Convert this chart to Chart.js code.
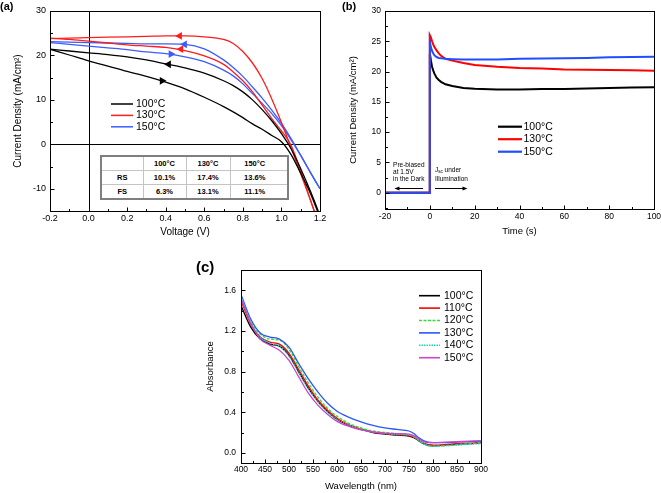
<!DOCTYPE html>
<html>
<head>
<meta charset="utf-8">
<script src="https://cdn.jsdelivr.net/npm/chart.js@4.4.0/dist/chart.umd.min.js"></script>
<style>
  html, body { margin: 0; padding: 0; background: #fff; }
  #page { position: relative; width: 661px; height: 493px; overflow: hidden; font-family: Arial, 'Liberation Sans', sans-serif; }
  canvas { position: absolute; }
  .tag { position: absolute; font-weight: bold; color: #000; line-height: 1; }
  #pceBox { position: absolute; left: 100px; top: 155px; width: 185px; height: 41px; border: 2px solid #7f7f7f; background: #fff; }
  #pceBox table { width: 100%; height: 100%; border-collapse: collapse; table-layout: fixed; }
  #pceBox td { border-left: 1px solid #c4c4c4; border-top: 1px solid #c4c4c4; text-align: center; font-size: 7.5px; font-weight: bold; padding: 0; }
  #pceBox tr:first-child td { border-top: none; }
  #pceBox td:first-child { border-left: none; }
  #pceBox td:last-child { padding-right: 8px; }
</style>
</head>
<body>
<div id="page">
  <canvas id="chartA" width="330" height="240" style="left:0;top:0"></canvas>
  <canvas id="chartB" width="331" height="240" style="left:330px;top:0"></canvas>
  <canvas id="chartC" width="380" height="253" style="left:150px;top:240px"></canvas>
  <div class="tag" style="left:0;top:1px;font-size:11px">(a)</div>
  <div class="tag" style="left:342px;top:1px;font-size:11px">(b)</div>
  <div class="tag" style="left:196px;top:259px;font-size:15px">(c)</div>
  <div id="pceBox"><table id="pceTable"></table></div>
</div>
<script>
const FONT = "Arial, 'Liberation Sans', sans-serif";

// ---- (a) J-V curves ----
const jvVoltage = [-0.2, -0.1, 0, 0.1, 0.2, 0.3, 0.4, 0.5, 0.6, 0.7, 0.75, 0.8, 0.85, 0.9, 0.95, 1.0, 1.05, 1.1, 1.15, 1.2];
const jv100RS = [21.4, 21.0, 20.6, 20.2, 19.7, 19.0, 18.1, 17.2, 16.0, 14.3, 13.2, 11.8, 10.0, 7.8, 5.3, 2.4, -1.0, -5.5, -10.5, -16.0];
const jv100FS = [21.4, 20.1, 18.8, 17.6, 16.4, 15.3, 14.0, 12.5, 10.6, 8.5, 7.3, 6.0, 4.6, 3.4, 2.0, 0.6, -2.3, -6.5, -11.0, -16.5];
const jv130RS = [23.8, 23.9, 24.0, 24.1, 24.2, 24.3, 24.4, 24.4, 24.2, 23.6, 22.7, 20.9, 18.3, 14.8, 10.2, 4.9, -0.8, -6.6, -12.5, -18.5];
const jv130FS = [23.9, 23.6, 23.2, 22.8, 22.4, 22.1, 21.8, 21.1, 19.9, 18.0, 16.3, 14.3, 11.8, 8.8, 5.8, 3.0, -0.2, -6.0, -12.5, -19.0];
const jv150RS = [23.1, 23.0, 22.9, 22.8, 22.7, 22.6, 22.6, 22.5, 21.5, 19.0, 17.3, 15.3, 12.9, 10.4, 7.7, 4.7, 1.3, -2.5, -6.3, -10.0];
const jv150FS = [22.9, 22.5, 22.1, 21.7, 21.3, 20.8, 20.4, 19.7, 18.6, 16.7, 15.4, 13.6, 11.4, 9.2, 6.9, 4.2, 1.0, -2.5, -6.3, -10.0];
// scan direction arrows: 100 RS, 100 FS, 130 RS, 130 FS, 150 RS, 150 FS
const arrowVoltage = [0.415, 0.381, 0.472, 0.479, 0.498, 0.427];
const arrowCurrent = [18.0, 14.3, 24.4, 21.4, 22.5, 20.3];
const arrowDir = ['left', 'right', 'left', 'left', 'left', 'right'];
const jvTemps = ['100°C', '130°C', '150°C'];
const voltageTicks = [-0.2, 0, 0.2, 0.4, 0.6, 0.8, 1.0, 1.2];
const currentTicksA = [-10, 0, 10, 20, 30];
// PCE table
const pceCols = ['100°C', '130°C', '150°C'];
const pceRS = ['10.1%', '17.4%', '13.6%'];
const pceFS = ['6.3%', '13.1%', '11.1%'];

// ---- (b) Jsc vs time ----
const timeS = [-20, 0, 0, 0.5, 1, 1.5, 2, 3, 4, 5, 7, 10, 15, 20, 30, 40, 50, 60, 70, 80, 90, 100];
const jsc100 = [0, 0, 23.0, 21.8, 20.8, 20.2, 19.7, 19.0, 18.6, 18.3, 17.9, 17.6, 17.3, 17.15, 17.05, 17.05, 17.1, 17.1, 17.2, 17.3, 17.35, 17.4];
const jsc130 = [0, 0, 26.0, 25.6, 25.0, 24.5, 24.1, 23.5, 23.0, 22.6, 22.1, 21.8, 21.4, 21.1, 20.8, 20.6, 20.5, 20.35, 20.3, 20.25, 20.2, 20.15];
const jsc150 = [0, 0, 24.9, 24.0, 23.4, 23.0, 22.7, 22.4, 22.25, 22.2, 22.1, 22.05, 22.0, 22.0, 22.0, 22.1, 22.15, 22.2, 22.25, 22.35, 22.4, 22.45];
const jscTemps = ['100°C', '130°C', '150°C'];
const timeTicks = [-20, 0, 20, 40, 60, 80, 100];
const currentTicksB = [0, 5, 10, 15, 20, 25, 30];
const darkNote = ['Pre-biased', 'at 1.5V', 'in the Dark'];

// ---- (c) absorbance ----
const wavelength = [400, 420, 440, 460, 480, 500, 520, 540, 560, 580, 600, 625, 650, 675, 700, 725, 750, 760, 770, 780, 790, 800, 825, 850, 875, 900];
const abs100 = [1.45, 1.24, 1.12, 1.07, 1.05, 0.96, 0.80, 0.64, 0.51, 0.41, 0.33, 0.27, 0.23, 0.20, 0.185, 0.175, 0.165, 0.15, 0.12, 0.09, 0.075, 0.07, 0.075, 0.085, 0.09, 0.10];
const abs110 = [1.50, 1.27, 1.14, 1.09, 1.07, 0.98, 0.82, 0.66, 0.52, 0.42, 0.34, 0.275, 0.235, 0.205, 0.19, 0.18, 0.17, 0.155, 0.125, 0.095, 0.08, 0.075, 0.08, 0.09, 0.095, 0.105];
const abs120 = [1.53, 1.30, 1.17, 1.12, 1.11, 1.02, 0.85, 0.69, 0.55, 0.44, 0.36, 0.29, 0.245, 0.215, 0.20, 0.19, 0.18, 0.16, 0.125, 0.09, 0.07, 0.065, 0.07, 0.08, 0.09, 0.10];
const abs130 = [1.56, 1.32, 1.18, 1.14, 1.12, 1.04, 0.88, 0.73, 0.60, 0.49, 0.41, 0.35, 0.305, 0.27, 0.245, 0.23, 0.215, 0.19, 0.15, 0.12, 0.105, 0.10, 0.10, 0.105, 0.11, 0.115];
const abs140 = [1.54, 1.29, 1.14, 1.08, 1.05, 0.95, 0.79, 0.63, 0.50, 0.40, 0.33, 0.27, 0.23, 0.205, 0.19, 0.18, 0.175, 0.16, 0.125, 0.09, 0.07, 0.065, 0.07, 0.075, 0.085, 0.09];
const abs150 = [1.52, 1.28, 1.12, 1.06, 1.01, 0.91, 0.75, 0.59, 0.47, 0.38, 0.31, 0.26, 0.225, 0.205, 0.195, 0.19, 0.185, 0.17, 0.14, 0.11, 0.10, 0.10, 0.105, 0.11, 0.115, 0.12];
const absTemps = ['100°C', '110°C', '120°C', '130°C', '140°C', '150°C'];
const wavelengthTicks = [400, 450, 500, 550, 600, 650, 700, 750, 800, 850, 900];
const absTicks = [0, 0.4, 0.8, 1.2, 1.6];

Chart.defaults.font.family = FONT;
Chart.defaults.color = '#000';

function points(xs, ys) {
    return xs.map((x, i) => ({ x: x, y: ys[i] }));
}

function minorValues(scale, majors) {
    const half = (majors[1] - majors[0]) / 2;
    const out = [];
    for (let v = majors[0] - half; v >= scale.min - 1e-9; v -= 2 * half) out.push(v);
    for (let v = majors[0] + half; v <= scale.max + 1e-9; v += 2 * half) out.push(v);
    return out;
}

// box around the plot with inward Origin-style ticks
function framePlugin(xMajor, yMajor, zeroLines) {
    return {
        id: 'frame',
        beforeDatasetsDraw(chart) {
            if (!zeroLines) return;
            const { ctx, chartArea: a, scales: { x, y } } = chart;
            ctx.save();
            ctx.strokeStyle = '#000';
            ctx.lineWidth = 1;
            const px = Math.round(x.getPixelForValue(0)) + 0.5;
            const py = Math.round(y.getPixelForValue(0)) + 0.5;
            ctx.beginPath();
            ctx.moveTo(px, a.top); ctx.lineTo(px, a.bottom);
            ctx.moveTo(a.left, py); ctx.lineTo(a.right, py);
            ctx.stroke();
            ctx.restore();
        },
        afterDatasetsDraw(chart) {
            const { ctx, chartArea: a, scales: { x, y } } = chart;
            const L = Math.round(a.left) + 0.5, R = Math.round(a.right) + 0.5;
            const T = Math.round(a.top) + 0.5, B = Math.round(a.bottom) + 0.5;
            ctx.save();
            ctx.strokeStyle = '#000';
            ctx.lineWidth = 1;
            ctx.strokeRect(L, T, R - L, B - T);
            ctx.beginPath();
            const tick = (scale, vals, len) => vals.forEach(v => {
                const p = Math.round(scale.getPixelForValue(v)) + 0.5;
                if (scale.isHorizontal()) { ctx.moveTo(p, B); ctx.lineTo(p, B - len); }
                else { ctx.moveTo(L, p); ctx.lineTo(L + len, p); }
            });
            tick(x, xMajor, 4);
            tick(x, minorValues(x, xMajor), 2.5);
            tick(y, yMajor, 4);
            tick(y, minorValues(y, yMajor), 2.5);
            ctx.stroke();
            ctx.restore();
        }
    };
}

function legendPlugin(cfg) {
    return {
        id: 'boxLegend',
        afterDraw(chart) {
            const ctx = chart.ctx;
            ctx.save();
            ctx.font = cfg.fontSize + 'px ' + FONT;
            ctx.textBaseline = 'middle';
            cfg.items.forEach((it, i) => {
                const y = cfg.y + i * cfg.spacing;
                ctx.strokeStyle = it.color;
                ctx.lineWidth = cfg.lineWidth;
                ctx.setLineDash(it.dash || []);
                ctx.beginPath();
                ctx.moveTo(cfg.x, y);
                ctx.lineTo(cfg.x + cfg.lineLen, y);
                ctx.stroke();
                ctx.setLineDash([]);
                ctx.fillStyle = '#000';
                ctx.fillText(it.label, cfg.x + cfg.lineLen + cfg.gap, y);
            });
            ctx.restore();
        }
    };
}

function linearAxis(opts) {
    return {
        type: 'linear',
        position: opts.position,
        min: opts.min,
        max: opts.max,
        grid: { display: false, drawTicks: false },
        border: { display: false },
        title: {
            display: true,
            text: opts.title,
            font: { size: opts.titleSize },
            padding: opts.titlePadding
        },
        ticks: {
            autoSkip: false,
            maxRotation: 0,
            padding: opts.tickPadding,
            font: { size: opts.tickSize },
            callback: opts.format
        },
        afterBuildTicks: scale => { scale.ticks = opts.values.map(v => ({ value: v })); },
        afterFit: scale => {
            if (opts.position === 'left') scale.width = opts.size;
            else scale.height = opts.size;
            scale.paddingLeft = 0; scale.paddingRight = 0;
            scale.paddingTop = 0; scale.paddingBottom = 0;
        }
    };
}

// ---------- panel (a) ----------
const jvColors = ['#000000', '#ff1c1c', '#3d5cff'];
const jvCurves = [jv100RS, jv100FS, jv130RS, jv130FS, jv150RS, jv150FS];
const datasetsA = [];
jvCurves.forEach((curve, i) => {
    datasetsA.push({
        label: jvTemps[Math.floor(i / 2)],
        data: points(jvVoltage, curve),
        borderColor: jvColors[Math.floor(i / 2)],
        borderWidth: 1.3,
        pointRadius: 0,
        cubicInterpolationMode: 'monotone',
        order: 10 + i
    });
    datasetsA.push({
        type: 'scatter',
        data: [{ x: arrowVoltage[i], y: arrowCurrent[i] }],
        pointStyle: 'triangle',
        pointRotation: arrowDir[i] === 'left' ? -90 : 90,
        pointRadius: 4.5,
        backgroundColor: jvColors[Math.floor(i / 2)],
        borderColor: jvColors[Math.floor(i / 2)],
        borderWidth: 0,
        order: 1
    });
});

new Chart(document.getElementById('chartA'), {
    type: 'line',
    data: { datasets: datasetsA },
    options: {
        responsive: false,
        animation: false,
        layout: { padding: { left: 0, top: 11, right: 10, bottom: 0 } },
        plugins: { legend: { display: false }, tooltip: { enabled: false } },
        scales: {
            x: linearAxis({ position: 'bottom', min: -0.2, max: 1.2, values: voltageTicks, size: 29,
                title: 'Voltage (V)', titleSize: 10, titlePadding: { top: 0, bottom: 2 },
                tickSize: 9, tickPadding: 2.5, format: v => v.toFixed(1) }),
            y: linearAxis({ position: 'left', min: -15, max: 30, values: currentTicksA, size: 50,
                title: 'Current Density (mA/cm²)', titleSize: 10, titlePadding: { top: 12, bottom: 0 },
                tickSize: 9, tickPadding: 4, format: v => String(v) })
        }
    },
    plugins: [
        framePlugin(voltageTicks, currentTicksA, true),
        legendPlugin({ x: 111, y: 104, spacing: 11.4, lineLen: 22, gap: 3, lineWidth: 1.5, fontSize: 10.5,
            items: jvTemps.map((t, i) => ({ label: t, color: jvColors[i] })) })
    ]
});

// efficiency table
const pceRows = [[''].concat(pceCols), ['RS'].concat(pceRS), ['FS'].concat(pceFS)];
const table = document.getElementById('pceTable');
table.innerHTML = '<colgroup><col style="width:41px"><col style="width:43px"><col style="width:44px"><col style="width:57px"></colgroup>' +
    pceRows.map(r => '<tr>' + r.map(c => '<td>' + c + '</td>').join('') + '</tr>').join('');

// ---------- panel (b) ----------
const jscColors = ['#000000', '#ff0000', '#1f4dff'];
const jscCurves = [jsc100, jsc130, jsc150];

function notesPlugin() {
    return {
        id: 'notes',
        afterDatasetsDraw(chart) {
            const { ctx, scales: { x, y } } = chart;
            ctx.save();
            ctx.fillStyle = '#000';
            ctx.strokeStyle = '#000';
            ctx.lineWidth = 1;
            ctx.textBaseline = 'middle';
            ctx.font = '6.5px ' + FONT;
            const x0 = x.getPixelForValue(-16.4);
            const y0 = y.getPixelForValue(4.55);
            darkNote.forEach((t, i) => ctx.fillText(t, x0, y0 + i * 7.3));

            // J_sc under / Illumination
            const x1 = x.getPixelForValue(2.3);
            const y1 = y.getPixelForValue(3.75);
            ctx.fillText('J', x1, y1);
            const wJ = ctx.measureText('J').width;
            ctx.font = '4.5px ' + FONT;
            ctx.fillText('sc', x1 + wJ, y1 + 2);
            const wS = ctx.measureText('sc').width;
            ctx.font = '6.5px ' + FONT;
            ctx.fillText(' under', x1 + wJ + wS, y1);
            ctx.fillText('Illumination', x1, y.getPixelForValue(2.25));

            const arrow = (from, to, at) => {
                const ya = Math.round(y.getPixelForValue(at)) + 0.5;
                const xa = x.getPixelForValue(from), xb = x.getPixelForValue(to);
                const dir = xb > xa ? 1 : -1;
                ctx.beginPath();
                ctx.moveTo(xa, ya); ctx.lineTo(xb - dir * 4, ya);
                ctx.stroke();
                ctx.beginPath();
                ctx.moveTo(xb, ya);
                ctx.lineTo(xb - dir * 5, ya - 2);
                ctx.lineTo(xb - dir * 5, ya + 2);
                ctx.closePath();
                ctx.fill();
            };
            arrow(-3.0, -15.8, 0.75);
            arrow(2.3, 16.8, 0.75);
            ctx.restore();
        }
    };
}

new Chart(document.getElementById('chartB'), {
    type: 'line',
    data: {
        datasets: jscCurves.map((c, i) => ({
            label: jscTemps[i],
            data: points(timeS, c),
            borderColor: jscColors[i],
            borderWidth: 2,
            pointRadius: 0,
            tension: 0,
            order: 3 - i
        }))
    },
    options: {
        responsive: false,
        animation: false,
        layout: { padding: { left: 0, top: 11, right: 7, bottom: 0 } },
        plugins: { legend: { display: false }, tooltip: { enabled: false } },
        scales: {
            x: linearAxis({ position: 'bottom', min: -20, max: 100, values: timeTicks, size: 31,
                title: 'Time (s)', titleSize: 9.5, titlePadding: { top: 0, bottom: 3 },
                tickSize: 8.5, tickPadding: 3, format: v => String(v) }),
            y: linearAxis({ position: 'left', min: -2.7, max: 30, values: currentTicksB, size: 55,
                title: 'Current Density (mA/cm²)', titleSize: 9.5, titlePadding: { top: 18, bottom: 0 },
                tickSize: 8.5, tickPadding: 4, format: v => String(v) })
        }
    },
    plugins: [
        framePlugin(timeTicks, currentTicksB, false),
        notesPlugin(),
        legendPlugin({ x: 168, y: 126.7, spacing: 12.5, lineLen: 24, gap: 1.5, lineWidth: 2.2, fontSize: 10.5,
            items: jscTemps.map((t, i) => ({ label: t, color: jscColors[i] })) })
    ]
});

// ---------- panel (c) ----------
const absColors = ['#000000', '#ff0000', '#33dd33', '#2a55ff', '#22cccc', '#cc44cc'];
const absDash = [[], [], [3, 1.5], [], [1.5, 1], []];
const absCurves = [abs100, abs110, abs120, abs130, abs140, abs150];

new Chart(document.getElementById('chartC'), {
    type: 'line',
    data: {
        datasets: absCurves.map((c, i) => ({
            label: absTemps[i],
            data: points(wavelength, c),
            borderColor: absColors[i],
            borderDash: absDash[i],
            borderWidth: 1.3,
            pointRadius: 0,
            cubicInterpolationMode: 'monotone',
            order: 10 - i
        }))
    },
    options: {
        responsive: false,
        animation: false,
        layout: { padding: { left: 0, top: 30, right: 49, bottom: 0 } },
        plugins: { legend: { display: false }, tooltip: { enabled: false } },
        scales: {
            x: linearAxis({ position: 'bottom', min: 400, max: 900, values: wavelengthTicks, size: 30,
                title: 'Wavelength (nm)', titleSize: 9.5, titlePadding: { top: 0, bottom: 1.3 },
                tickSize: 8.5, tickPadding: 2, format: v => String(v) }),
            y: linearAxis({ position: 'left', min: -0.1, max: 1.8, values: absTicks, size: 91,
                title: 'Absorbance', titleSize: 9.5, titlePadding: { top: 55, bottom: 0 },
                tickSize: 8.5, tickPadding: 5, format: v => v.toFixed(1) })
        }
    },
    plugins: [
        framePlugin(wavelengthTicks, absTicks, false),
        legendPlugin({ x: 269, y: 55.7, spacing: 12.4, lineLen: 21, gap: 4, lineWidth: 1.6, fontSize: 10.5,
            items: absTemps.map((t, i) => ({ label: t, color: absColors[i], dash: absDash[i] })) })
    ]
});
</script>
</body>
</html>
